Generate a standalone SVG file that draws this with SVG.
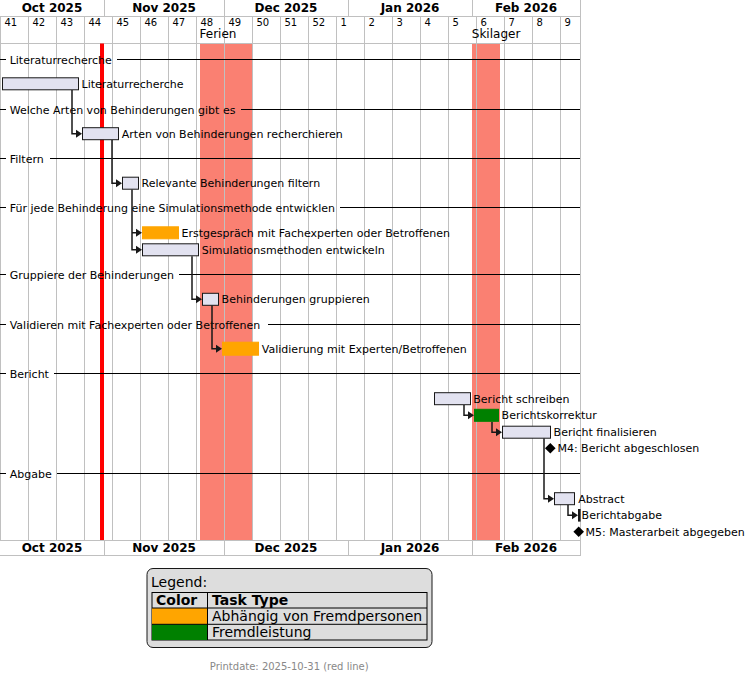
<svg xmlns="http://www.w3.org/2000/svg" width="746" height="674" viewBox="0 0 746 674">
<style>
text{font-family:"DejaVu Sans","Liberation Sans",sans-serif;fill:#000}
.mon{font-size:12px;font-weight:bold;text-anchor:middle}
.wk{font-size:10px}
.cl{font-size:12px}
.lbl{font-size:11px}
.grid{stroke:#C0C0C0;stroke-width:1;fill:none}
.sep{stroke:#000;stroke-width:1}
.bar{fill:#E2E2F0;stroke:#181818;stroke-width:1}
.org{fill:#FFA500;stroke:#FFA500;stroke-width:1}
.grn{fill:#008000;stroke:#008000;stroke-width:1}
.con{stroke:#181818;stroke-width:1.5;fill:none}
.ah{fill:#181818}
.lg{font-size:14px}
.lgb{font-size:14px;font-weight:bold}
</style>
<rect width="746" height="674" fill="#fff"/>
<g id="closed-days">
<rect x="200" y="43.5" width="52" height="496.5" fill="#FA8072"/>
<rect x="472" y="43.5" width="28" height="496.5" fill="#FA8072"/>
</g>
<g id="grid">
<path class="grid" d="M0.5 16.5V540 M28.5 16.5V540 M56.5 16.5V540 M84.5 16.5V540 M112.5 16.5V540 M140.5 16.5V540 M168.5 16.5V540 M196.5 16.5V540 M224.5 16.5V540 M252.5 16.5V540 M280.5 16.5V540 M308.5 16.5V540 M336.5 16.5V540 M364.5 16.5V540 M392.5 16.5V540 M420.5 16.5V540 M448.5 16.5V540 M476.5 16.5V540 M504.5 16.5V540 M532.5 16.5V540 M560.5 16.5V540 M580.5 0V556"/>
<path class="grid" d="M0 16.5H581 M0 43.5H581 M0 540.5H581 M0 555.5H581"/>
<path class="grid" d="M104.5 0V16.5 M224.5 0V16.5 M348.5 0V16.5 M472.5 0V16.5 M104.5 540.5V556 M224.5 540.5V556 M348.5 540.5V556 M472.5 540.5V556"/>
</g>
<g id="header">
<text class="mon" x="52" y="11.5">Oct 2025</text>
<text class="mon" x="164" y="11.5">Nov 2025</text>
<text class="mon" x="286" y="11.5">Dec 2025</text>
<text class="mon" x="410" y="11.5">Jan 2026</text>
<text class="mon" x="526" y="11.5">Feb 2026</text>
<text class="wk" x="4.5" y="25.5">41</text>
<text class="wk" x="32.5" y="25.5">42</text>
<text class="wk" x="60.5" y="25.5">43</text>
<text class="wk" x="88.5" y="25.5">44</text>
<text class="wk" x="116.5" y="25.5">45</text>
<text class="wk" x="144.5" y="25.5">46</text>
<text class="wk" x="172.5" y="25.5">47</text>
<text class="wk" x="200.5" y="25.5">48</text>
<text class="wk" x="228.5" y="25.5">49</text>
<text class="wk" x="256.5" y="25.5">50</text>
<text class="wk" x="284.5" y="25.5">51</text>
<text class="wk" x="312.5" y="25.5">52</text>
<text class="wk" x="340.5" y="25.5">1</text>
<text class="wk" x="368.5" y="25.5">2</text>
<text class="wk" x="396.5" y="25.5">3</text>
<text class="wk" x="424.5" y="25.5">4</text>
<text class="wk" x="452.5" y="25.5">5</text>
<text class="wk" x="480.5" y="25.5">6</text>
<text class="wk" x="508.5" y="25.5">7</text>
<text class="wk" x="536.5" y="25.5">8</text>
<text class="wk" x="564.5" y="25.5">9</text>
<text class="cl" x="199.5" y="38">Ferien</text>
<text class="cl" x="471.8" y="38">Skilager</text>
<text class="mon" x="52" y="552">Oct 2025</text>
<text class="mon" x="164" y="552">Nov 2025</text>
<text class="mon" x="286" y="552">Dec 2025</text>
<text class="mon" x="410" y="552">Jan 2026</text>
<text class="mon" x="526" y="552">Feb 2026</text>
</g>
<g id="today">
<rect x="100" y="43.5" width="4" height="496.5" fill="#FF0000"/>
</g>
<g id="separators">
<g id="sep-literaturrecherche"><path class="sep" d="M0 59.5H6 M117 59.5H580"/><text class="lbl" x="9.7" y="63.5">Literaturrecherche</text></g>
<g id="sep-welche"><path class="sep" d="M0 109.5H6 M241 109.5H580"/><text class="lbl" x="9.7" y="113.5">Welche Arten von Behinderungen gibt es</text></g>
<g id="sep-filtern"><path class="sep" d="M0 158.5H6 M50 158.5H580"/><text class="lbl" x="9.7" y="162.5">Filtern</text></g>
<g id="sep-fuer-jede"><path class="sep" d="M0 207.5H6 M340 207.5H580"/><text class="lbl" x="9.7" y="211.5">Für jede Behinderung eine Simulationsmethode entwicklen</text></g>
<g id="sep-gruppiere"><path class="sep" d="M0 274.5H6 M179 274.5H580"/><text class="lbl" x="9.7" y="278.5">Gruppiere der Behinderungen</text></g>
<g id="sep-validieren"><path class="sep" d="M0 324.5H6 M268 324.5H580"/><text class="lbl" x="9.7" y="328.5">Validieren mit Fachexperten oder Betroffenen</text></g>
<g id="sep-bericht"><path class="sep" d="M0 373.5H6 M54 373.5H580"/><text class="lbl" x="9.7" y="377.5">Bericht</text></g>
<g id="sep-abgabe"><path class="sep" d="M0 473.5H6 M57 473.5H580"/><text class="lbl" x="9.7" y="477.5">Abgabe</text></g>
</g>
<g id="connectors">
<path class="con" d="M72 90V133.8H76"/><path class="ah" d="M76 129.8L82 133.8L76 137.8Z"/>
<path class="con" d="M112 140V183.2H116"/><path class="ah" d="M116 179.2L122 183.2L116 187.2Z"/>
<path class="con" d="M132 189.5V249.8H136 M132 232.8H136"/><path class="ah" d="M136 228.8L142 232.8L136 236.8Z"/><path class="ah" d="M136 245.8L142 249.8L136 253.8Z"/>
<path class="con" d="M192 256.3V299.3H196"/><path class="ah" d="M196 295.3L202 299.3L196 303.3Z"/>
<path class="con" d="M212 305.3V348.7H216"/><path class="ah" d="M216 344.7L222 348.7L216 352.7Z"/>
<path class="con" d="M464 405V415.3H468"/><path class="ah" d="M468 411.3L474 415.3L468 419.3Z"/>
<path class="con" d="M492 421.7V432.2H496"/><path class="ah" d="M496 428.2L502 432.2L496 436.2Z"/>
<path class="con" d="M544 438.3V498.7H548"/><path class="ah" d="M548 494.7L554 498.7L548 502.7Z"/>
<path class="con" d="M568 505V515.3H572"/><path class="ah" d="M572 511.3L578 515.3L572 519.3Z"/>
</g>
<g id="task-literaturrecherche"><rect class="bar" x="2.5" y="77.8" width="76" height="12"/><text class="lbl" x="81.5" y="87.8">Literaturrecherche</text></g>
<g id="task-arten"><rect class="bar" x="82.5" y="127.7" width="36" height="12"/><text class="lbl" x="121.8" y="137.7">Arten von Behinderungen recherchieren</text></g>
<g id="task-relevante"><rect class="bar" x="122.5" y="177.2" width="16" height="12"/><text class="lbl" x="141.5" y="187.2">Relevante Behinderungen filtern</text></g>
<g id="task-erstgespraech"><rect class="org" x="142.5" y="226.8" width="36" height="12"/><text class="lbl" x="181.5" y="236.8">Erstgespräch mit Fachexperten oder Betroffenen</text></g>
<g id="task-simulationsmethoden"><rect class="bar" x="142.5" y="243.8" width="56" height="12"/><text class="lbl" x="201.7" y="253.8">Simulationsmethoden entwickeln</text></g>
<g id="task-gruppieren"><rect class="bar" x="202.5" y="293.3" width="16" height="12"/><text class="lbl" x="221.6" y="303.3">Behinderungen gruppieren</text></g>
<g id="task-validierung"><rect class="org" x="222.5" y="342.2" width="36" height="13"/><text class="lbl" x="261.8" y="352.7">Validierung mit Experten/Betroffenen</text></g>
<g id="task-bericht-schreiben"><rect class="bar" x="434.5" y="392.7" width="36" height="12"/><text class="lbl" x="473.3" y="402.7">Bericht schreiben</text></g>
<g id="task-berichtskorrektur"><rect class="grn" x="474.5" y="409.3" width="24" height="12"/><text class="lbl" x="501.6" y="419.3">Berichtskorrektur</text></g>
<g id="task-bericht-finalisieren"><rect class="bar" x="502.5" y="426.2" width="48" height="12"/><text class="lbl" x="553.6" y="436.2">Bericht finalisieren</text></g>
<g id="milestone-m4"><path d="M550.3 443L555.6 448.3L550.3 453.6L545 448.3Z" fill="#000"/><text class="lbl" x="557.4" y="452.3">M4: Bericht abgeschlosen</text></g>
<g id="task-abstract"><rect class="bar" x="554.5" y="492.7" width="20" height="12"/><text class="lbl" x="578.3" y="502.7">Abstract</text></g>
<g id="task-berichtabgabe"><rect x="578" y="509" width="2.6" height="12.6" fill="#181818"/><text class="lbl" x="581.6" y="519.3">Berichtabgabe</text></g>
<g id="milestone-m5"><path d="M578.7 526.4L584 531.7L578.7 537L573.4 531.7Z" fill="#000"/><text class="lbl" x="585.6" y="535.7">M5: Masterarbeit abgegeben</text></g>
<g id="legend">
<rect x="147" y="568.5" width="285" height="79" rx="6" ry="6" fill="#DDDDDD" stroke="#181818" stroke-width="1"/>
<text class="lg" x="151" y="586.5">Legend:</text>
<rect x="152" y="592.5" width="275" height="47.5" fill="#DDDDDD" stroke="#000" stroke-width="1"/>
<rect x="152" y="608" width="55.5" height="16.3" fill="#FFA500"/>
<rect x="152" y="624.3" width="55.5" height="15.7" fill="#008000"/>
<path d="M152 608H427 M152 624.3H427 M207.5 592.5V640" stroke="#000" stroke-width="1" fill="none"/>
<text class="lgb" x="156" y="605">Color</text>
<text class="lgb" x="212" y="605">Task Type</text>
<text class="lg" x="212" y="621">Abhängig von Fremdpersonen</text>
<text class="lg" x="212" y="637">Fremdleistung</text>
</g>
<text x="289.2" y="670" style="font-size:10px;fill:#888888;text-anchor:middle">Printdate: 2025-10-31 (red line)</text>
</svg>
